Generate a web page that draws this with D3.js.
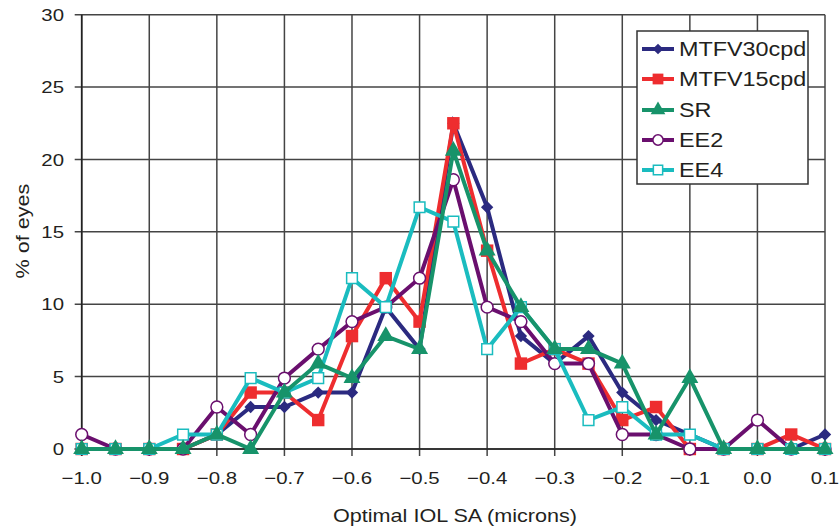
<!DOCTYPE html>
<html><head><meta charset="utf-8">
<script src="https://cdn.jsdelivr.net/npm/d3@7"></script>
<style>
html,body{margin:0;padding:0;background:#fff;}
svg{display:block;font-family:"Liberation Sans",Arial,Helvetica,sans-serif;}
</style></head>
<body><svg id="chart" width="839" height="529"></svg>
<script>
const xValues = [-1.0,-0.95,-0.9,-0.85,-0.8,-0.75,-0.7,-0.65,-0.6,-0.55,-0.5,-0.45,-0.4,-0.35,-0.3,-0.25,-0.2,-0.15,-0.1,-0.05,0.0,0.05,0.1];
const mtfv30 = [0,0,0,0,1,2.9,2.9,3.9,3.9,9.8,6.9,22.5,16.7,7.8,5.9,7.8,3.9,2.0,1.0,0,0,0,1.0];
const mtfv15 = [0,0,0,0,1,3.9,3.9,2.0,7.8,11.8,8.8,22.5,13.7,5.9,6.9,5.9,2.0,2.9,0,0,0,1.0,0];
const sr     = [0,0,0,0,1,0,3.9,5.9,4.9,7.8,6.9,20.6,13.7,9.8,6.9,6.9,5.9,1.0,4.9,0,0,0,0];
const ee2    = [1,0,0,0,2.9,1,4.9,6.9,8.8,9.8,11.8,18.6,9.8,8.8,5.9,5.9,1.0,1.0,0,0,2.0,0,0];
const ee4    = [0,0,0,1,1,4.9,3.9,4.9,11.8,9.8,16.7,15.7,6.9,9.8,6.9,2.0,2.9,1.0,1.0,0,0,0,0];
const seriesNames = ["MTFV30cpd","MTFV15cpd","SR","EE2","EE4"];
const xTicks = [-1.0,-0.9,-0.8,-0.7,-0.6,-0.5,-0.4,-0.3,-0.2,-0.1,0.0,0.1];
const yTicks = [0,5,10,15,20,25,30];
const xTitle = "Optimal IOL SA (microns)";
const yTitle = "% of eyes";

const seriesValues = [mtfv30, mtfv15, sr, ee2, ee4];
const styles = [
  {color:"#2b2a80", marker:"diamond", fill:true},
  {color:"#ee2d2f", marker:"square", fill:true},
  {color:"#17936a", marker:"triangle", fill:true},
  {color:"#6a0f6e", marker:"circle", fill:false},
  {color:"#1abcbf", marker:"square", fill:false}
];

const svg = d3.select("#chart");
const x = d3.scaleLinear().domain([-1.0,0.1]).range([81.7,825]);
const y = d3.scaleLinear().domain([0,30]).range([449,14.7]);
const SX = 1.2;
const gridColor = "#444";

function stext(g, str, tx, ty, size, anchor, rot){
  g.append("text")
   .attr("transform", `translate(${tx},${ty})` + (rot?` rotate(${rot})`:"") + ` scale(${SX},1)`)
   .attr("text-anchor", anchor)
   .attr("font-size", size)
   .attr("fill", "#231f20")
   .text(str);
}

const grid = svg.append("g");
grid.selectAll("line.v").data(xTicks).enter().append("line")
  .attr("x1", d=>x(d)).attr("x2", d=>x(d)).attr("y1", y(30)).attr("y2", y(0)+7)
  .attr("stroke", gridColor).attr("stroke-width", 1.5);
grid.selectAll("line.h").data(yTicks).enter().append("line")
  .attr("x1", x(-1.0)-7).attr("x2", x(0.1)).attr("y1", d=>y(d)).attr("y2", d=>y(d))
  .attr("stroke", gridColor).attr("stroke-width", 1.5);
grid.append("line").attr("x1",x(-1.0)).attr("x2",x(-1.0)).attr("y1",y(30)).attr("y2",y(0)+7).attr("stroke","#222").attr("stroke-width",1.6);
grid.append("line").attr("x1",x(-1.0)-7).attr("x2",x(0.1)).attr("y1",y(0)).attr("y2",y(0)).attr("stroke","#222").attr("stroke-width",1.6);

const labs = svg.append("g");
yTicks.forEach(t => stext(labs, String(t), 64, y(t)+6.2, 17, "end"));
xTicks.forEach(t => stext(labs, d3.format(".1f")(t).replace("-","\u2212"), x(t), 484, 17, "middle"));
stext(labs, xTitle, 455, 522, 18, "middle");
stext(labs, yTitle, 29, 231, 18, "middle", -90);

const squareDiamond = {
  draw(ctx, size){
    const r = Math.sqrt(size/2);
    ctx.moveTo(0,-r); ctx.lineTo(r,0); ctx.lineTo(0,r); ctx.lineTo(-r,0); ctx.closePath();
  }
};
function markerPath(st, scale){
  const s = scale || 1;
  if (st.marker==="diamond") return d3.symbol().type(squareDiamond).size(76*s)();
  if (st.marker==="triangle") return d3.symbol().type(d3.symbolTriangle).size(125*s)();
  if (st.marker==="circle") return d3.symbol().type(d3.symbolCircle).size(110*s)();
  if (st.fill) return d3.symbol().type(d3.symbolSquare).size(155*s)();
  return d3.symbol().type(d3.symbolSquare).size(115*s)();
}
function drawMarker(g, st, cx, cy, scale){
  g.append("path").attr("d", markerPath(st, scale))
   .attr("transform", `translate(${cx},${cy})`)
   .attr("fill", st.fill ? st.color : "#fff")
   .attr("stroke", st.color)
   .attr("stroke-width", st.fill ? 0 : 1.5);
}

const line = d3.line().x((d,i)=>x(xValues[i])).y(d=>y(d));
const lineOrder = [0,1,3,4,2];
const plot = svg.append("g");
lineOrder.forEach(k => {
  plot.append("path").datum(seriesValues[k]).attr("d", line)
    .attr("fill","none").attr("stroke", styles[k].color)
    .attr("stroke-width", 4).attr("stroke-linejoin","miter");
  seriesValues[k].forEach((v,i)=> drawMarker(plot, styles[k], x(xValues[i]), y(v)));
});

const lg = svg.append("g");
lg.append("rect").attr("x",637).attr("y",31).attr("width",171).attr("height",153)
  .attr("fill","#fff").attr("stroke","#333").attr("stroke-width",1.5);
const rowY = [49,79,110,140,170];
seriesNames.forEach((name,k)=>{
  lg.append("line").attr("x1",642).attr("x2",674).attr("y1",rowY[k]).attr("y2",rowY[k])
    .attr("stroke",styles[k].color).attr("stroke-width",4);
  drawMarker(lg, styles[k], 658, rowY[k], 0.75);
  stext(lg, name, 679, rowY[k]+7, 19.5, "start");
});
</script></body></html>
